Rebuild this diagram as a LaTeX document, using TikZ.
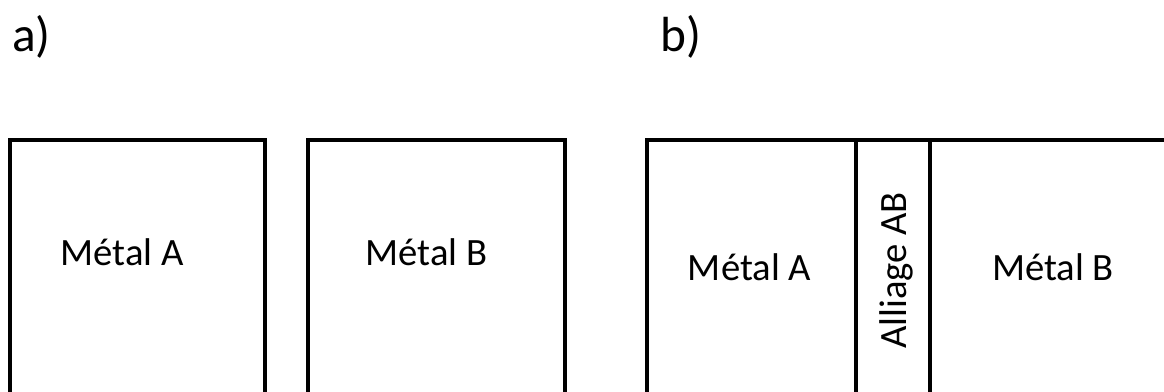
\documentclass[tikz,border=0pt]{standalone}
\usepackage{fontspec}
\setmainfont{Carlito}
\usepackage{tikz}

\tikzset{
  wall/.style={line width=3pt, line cap=rect},
  label/.style={inner sep=0pt, font=\fontsize{29}{34}\selectfont},
  caption/.style={inner sep=0pt, font=\fontsize{37}{44}\selectfont},
}

\begin{document}
\begin{tikzpicture}[x=0.75pt, y=-0.75pt]

% Frame of the picture

\clip (0,0) rectangle (1164,392);

% Draw case a)

\draw[wall] (9.5,420) -- (9.5,140) -- (265,140) -- (265,420);

\draw[wall] (307.5,420) -- (307.5,140) -- (565,140) -- (565,420);

% Draw case b)

\draw[wall] (647,420) -- (647,140) -- (1200,140);

\draw[wall] (856,140) -- (856,420);

\draw[wall] (930,140) -- (930,420);

% Draw Labels of the cases

\node (capa) [caption, anchor=base west] at (12,52) {a)};

\node (capb) [caption, anchor=base west] at (660,52) {b)};

% Draw Labels of the metals

\node (metaA) [label, anchor=base] at (122,266) {Métal A};

\node (metaB) [label, anchor=base] at (426.5,266) {Métal B};

\node (metbA) [label, anchor=base] at (749.5,280) {Métal A};

\node (metbB) [label, anchor=base] at (1053,280) {Métal B};

% Draw Label of the alloy

\node (alloy) [label, anchor=base, rotate=90] at (906,270.5) {Alliage AB};

\end{tikzpicture}
\end{document}
